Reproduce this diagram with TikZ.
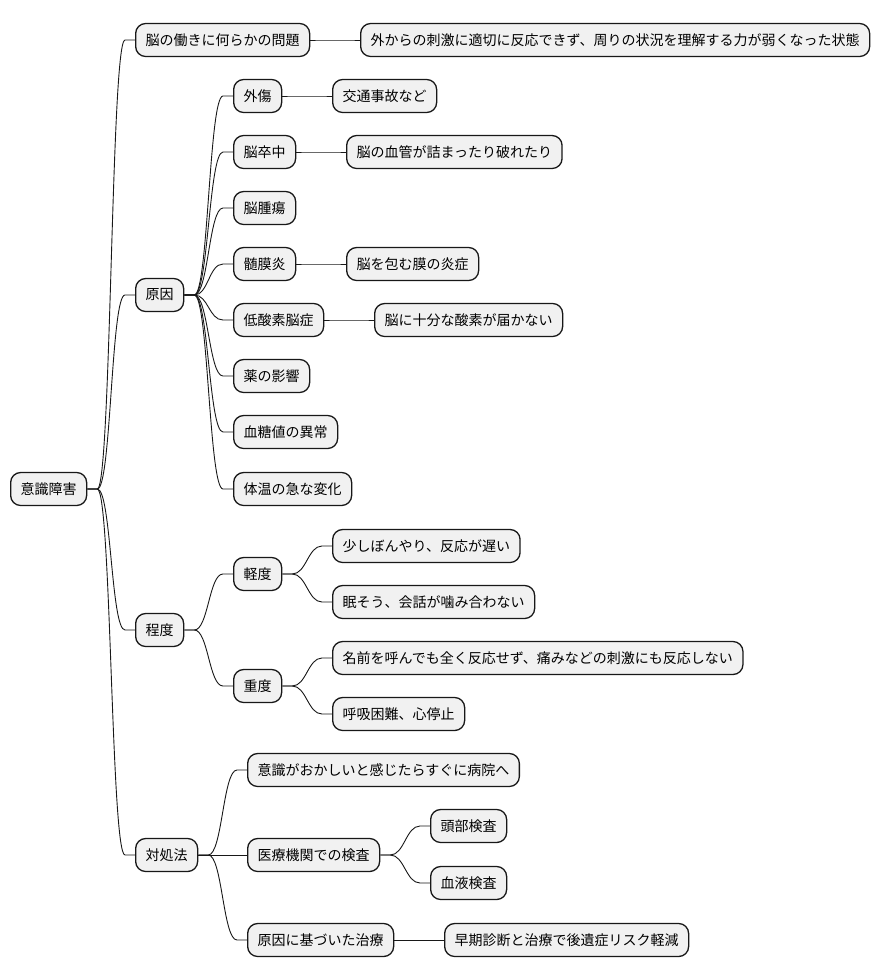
\documentclass[tikz,border=0pt]{standalone}
\usepackage{fontspec}
\setmainfont{Noto Sans CJK JP}
\usetikzlibrary{calc}
\definecolor{boxfill}{HTML}{F1F1F1}
\definecolor{boxline}{HTML}{181818}

\begin{document}
\begin{tikzpicture}[x=1pt,y=-1pt,
  box/.style={draw=boxline,fill=boxfill,line width=1.3pt,rounded corners=10pt,
    anchor=west,inner xsep=10pt,inner ysep=0pt,minimum height=33pt,
    font=\fontsize{14pt}{17pt}\selectfont},
  link/.style={draw=boxline,line width=0.9pt}]
\useasboundingbox (0,0) rectangle (880,978);

\node[box] at (10,489) (root) {意識障害};

\node[box] at (135,40) (prob) {脳の働きに何らかの問題};
\node[box] at (360,40) (probd) {外からの刺激に適切に反応できず、周りの状況を理解する力が弱くなった状態};

\node[box] at (135,295) (cause) {原因};
\node[box] at (233,96) (c1) {外傷};
\node[box] at (332,96) (c1d) {交通事故など};
\node[box] at (233,152) (c2) {脳卒中};
\node[box] at (346,152) (c2d) {脳の血管が詰まったり破れたり};
\node[box] at (233,208) (c3) {脳腫瘍};
\node[box] at (233,264) (c4) {髄膜炎};
\node[box] at (346,264) (c4d) {脳を包む膜の炎症};
\node[box] at (233,320) (c5) {低酸素脳症};
\node[box] at (374,320) (c5d) {脳に十分な酸素が届かない};
\node[box] at (233,376) (c6) {薬の影響};
\node[box] at (233,432) (c7) {血糖値の異常};
\node[box] at (233,489) (c8) {体温の急な変化};

\node[box] at (135,630) (level) {程度};
\node[box] at (233,574) (mild) {軽度};
\node[box] at (332,546) (mild1) {少しぼんやり、反応が遅い};
\node[box] at (332,602) (mild2) {眠そう、会話が噛み合わない};
\node[box] at (233,686) (sev) {重度};
\node[box] at (332,658) (sev1) {名前を呼んでも全く反応せず、痛みなどの刺激にも反応しない};
\node[box] at (332,714) (sev2) {呼吸困難、心停止};

\node[box] at (135,855) (act) {対処法};
\node[box] at (247,770) (a1) {意識がおかしいと感じたらすぐに病院へ};
\node[box] at (247,855) (a2) {医療機関での検査};
\node[box] at (430,826) (a2a) {頭部検査};
\node[box] at (430,883) (a2b) {血液検査};
\node[box] at (247,940) (a3) {原因に基づいた治療};
\node[box] at (444,940) (a3d) {早期診断と治療で後遺症リスク軽減};

% branches
\foreach \a/\b in {root/prob,root/cause,root/level,root/act,
    prob/probd,
    cause/c1,cause/c2,cause/c3,cause/c4,cause/c5,cause/c6,cause/c7,cause/c8,
    c1/c1d,c2/c2d,c4/c4d,c5/c5d,
    level/mild,level/sev,mild/mild1,mild/mild2,sev/sev1,sev/sev2,
    act/a1,act/a2,act/a3,a2/a2a,a2/a2b,a3/a3d}
  \draw[link] (\a.east) -- ++(10,0) .. controls +(14,0) and ($(\b.west)+(-24,0)$) .. ($(\b.west)+(-10,0)$) -- (\b.west);
\end{tikzpicture}
\end{document}
